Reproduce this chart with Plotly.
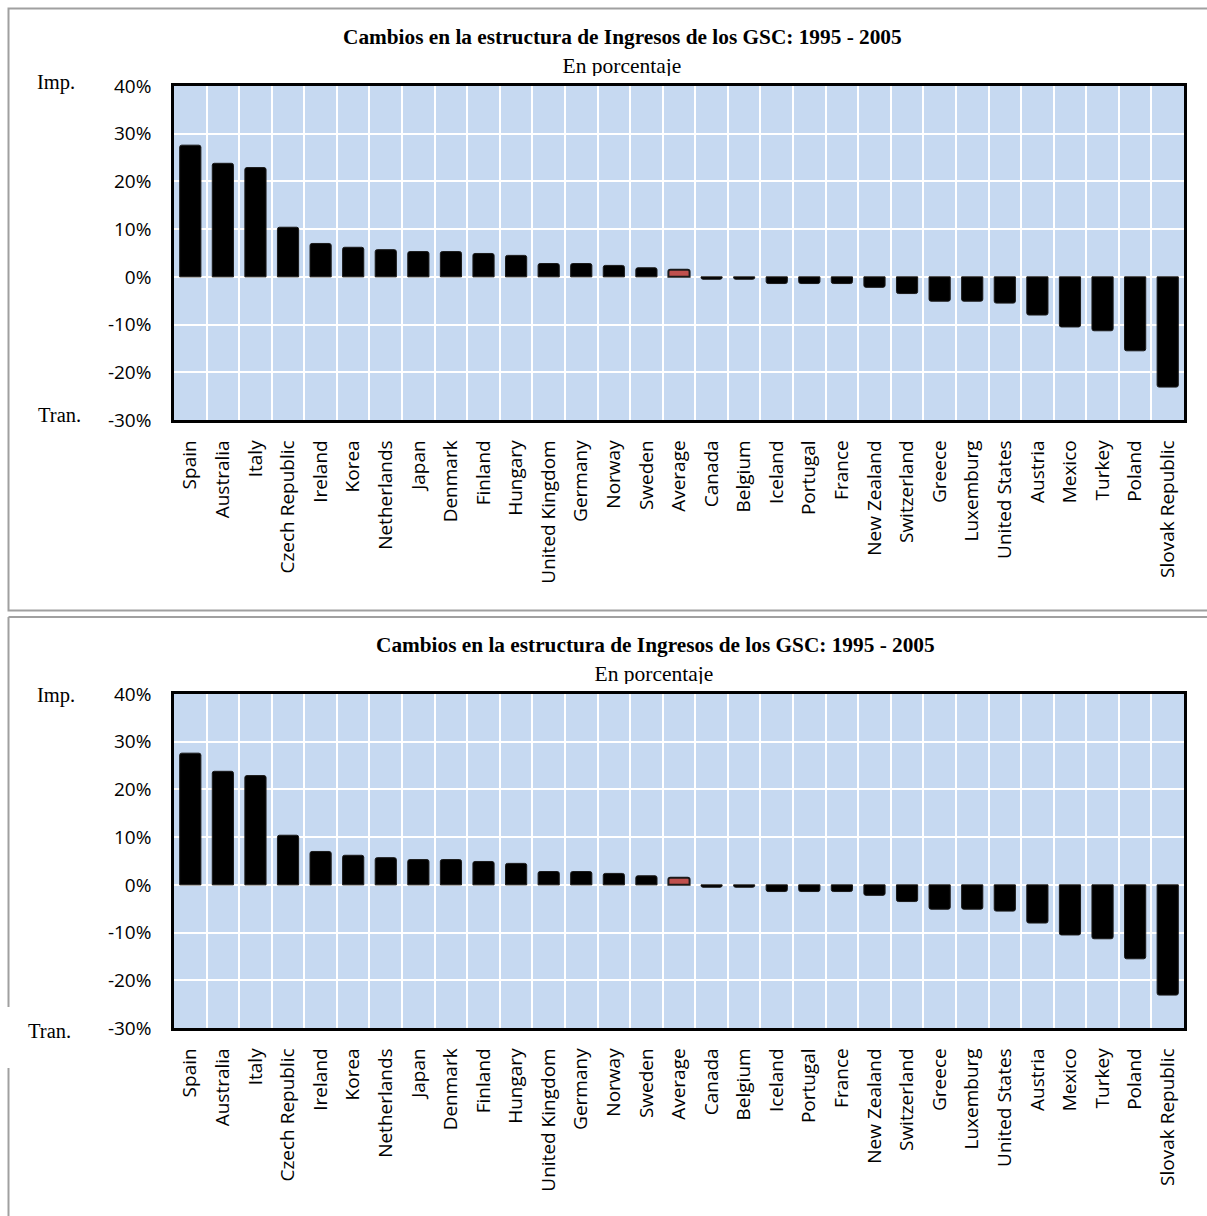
import plotly.graph_objects as go

# Revenue-structure change by country, 1995-2005 (percentage points)
countries = [
    "Spain", "Australia", "Italy", "Czech Republic", "Ireland", "Korea",
    "Netherlands", "Japan", "Denmark", "Finland", "Hungary", "United Kingdom",
    "Germany", "Norway", "Sweden", "Average", "Canada", "Belgium", "Iceland",
    "Portugal", "France", "New Zealand", "Switzerland", "Greece", "Luxemburg",
    "United States", "Austria", "Mexico", "Turkey", "Poland", "Slovak Republic",
]
values = [
    27.6, 23.8, 22.9, 10.4, 7.0, 6.2,
    5.7, 5.3, 5.3, 4.9, 4.5, 2.8,
    2.8, 2.4, 1.9, 1.5, -0.5, -0.5, -1.4,
    -1.4, -1.4, -2.2, -3.5, -5.1, -5.1,
    -5.5, -8.0, -10.5, -11.3, -15.5, -23.1,
]
y_tick_vals = [-30, -20, -10, 0, 10, 20, 30, 40]
y_tick_text = ["-30%", "-20%", "-10%", "0%", "10%", "20%", "30%", "40%"]

TITLE = "Cambios en la estructura de Ingresos de los GSC: 1995 - 2005"
SUBTITLE = "En porcentaje"

W, H = 1207, 1216
BG = "#C6D9F1"
SERIF = "Liberation Serif, Times New Roman, serif"
SANS = "Open Sans, sans-serif"


def px_x(v):
    return v / W


def px_y(v):
    return 1 - v / H


bar_colors = ["#C0504D" if c == "Average" else "#000000" for c in countries]
bar_line_w = [2 if c == "Average" else 1 for c in countries]

fig = go.Figure()

# two identical panels, each with its own clipped subtitle strip
panels = [
    dict(top=86, bottom=420, tx=622, ty=37, sx=622, s_top=40, s_bot=76,
         imp=(56, 82), tran=(59, 415)),
    dict(top=694, bottom=1028, tx=655, ty=645, sx=654, s_top=648, s_bot=684,
         imp=(56, 695), tran=(49, 1031)),
]

shapes = []
annotations = []
layout_axes = {}

for i, p in enumerate(panels):
    xa = "x" if i == 0 else "x2"
    ya = "y" if i == 0 else "y2"
    fig.add_trace(go.Bar(
        x=countries, y=values, xaxis=xa, yaxis=ya,
        width=0.65,
        marker=dict(color=bar_colors,
                    line=dict(color="#1a1a1a", width=bar_line_w),
                    cornerradius=2),
        showlegend=False, hoverinfo="x+y",
    ))
    dom_y = [px_y(p["bottom"]), px_y(p["top"])]
    xkey = "xaxis" if i == 0 else "xaxis2"
    ykey = "yaxis" if i == 0 else "yaxis2"
    layout_axes[xkey] = dict(
        domain=[px_x(174), px_x(1184)], anchor=ya, automargin=False,
        type="category", range=[-0.5, len(countries) - 0.5],
        tickson="boundaries", showgrid=True, gridcolor="white", gridwidth=2,
        showline=True, mirror=True, linecolor="black", linewidth=2.5,
        ticks="outside", ticklen=14, tickcolor="rgba(0,0,0,0)",
        ticklabelstandoff=10,
        tickangle=-90, tickfont=dict(family=SANS, size=19, color="black"),
    )
    layout_axes[ykey] = dict(
        domain=dom_y, anchor=xa, range=[-30, 40], automargin=False,
        tickvals=y_tick_vals, ticktext=y_tick_text,
        showgrid=True, gridcolor="white", gridwidth=2, zeroline=False,
        showline=True, mirror=True, linecolor="black", linewidth=2.5,
        ticks="outside", ticklen=16, tickcolor="rgba(0,0,0,0)",
        tickfont=dict(family=SANS, size=19, color="black"),
    )
    # plot-area fill
    shapes.append(dict(type="rect", xref=f"{xa} domain", yref=f"{ya} domain",
                       x0=0, x1=1, y0=0, y1=1, fillcolor=BG,
                       line=dict(width=0), layer="below"))

    # subtitle strip, clipped at its lower edge
    sxa = f"x{3 + i}"
    sya = f"y{3 + i}"
    layout_axes[f"xaxis{3 + i}"] = dict(domain=[0, 1], range=[0, W], visible=False,
                                         anchor=sya, fixedrange=True, automargin=False)
    layout_axes[f"yaxis{3 + i}"] = dict(domain=[px_y(p["s_bot"]), px_y(p["s_top"])],
                                         range=[p["s_bot"], p["s_top"]], visible=False,
                                         anchor=sxa, fixedrange=True, automargin=False)
    fig.add_trace(go.Scatter(
        x=[p["sx"]], y=[p["s_bot"] - 8], xaxis=sxa, yaxis=sya,
        mode="text", text=[SUBTITLE], textposition="middle center",
        textfont=dict(family=SERIF, size=21.5, color="black"),
        cliponaxis=True, showlegend=False, hoverinfo="skip",
    ))

    annotations.append(dict(text=f"<b>{TITLE}</b>", xref="paper", yref="paper",
                            x=px_x(p["tx"]), y=px_y(p["ty"]), xanchor="center",
                            yanchor="middle", showarrow=False,
                            font=dict(family=SERIF, size=21.3, color="black")))
    annotations.append(dict(text="Imp.", xref="paper", yref="paper",
                            x=px_x(p["imp"][0]), y=px_y(p["imp"][1]),
                            xanchor="center", yanchor="middle", showarrow=False,
                            font=dict(family=SERIF, size=20.5, color="black")))
    annotations.append(dict(text="Tran.", xref="paper", yref="paper",
                            x=px_x(p["tran"][0]), y=px_y(p["tran"][1]),
                            xanchor="center", yanchor="middle", showarrow=False,
                            font=dict(family=SERIF, size=20.5, color="black")))

# chart frames
FRAME = dict(color="#A0A0A0", width=2)
shapes += [
    dict(type="rect", xref="paper", yref="paper", x0=px_x(8.5), x1=px_x(1215),
         y0=px_y(610.5), y1=px_y(8.5), line=FRAME, layer="below"),
    dict(type="line", xref="paper", yref="paper", x0=px_x(8.5), x1=px_x(1215),
         y0=px_y(617), y1=px_y(617), line=FRAME, layer="below"),
    dict(type="line", xref="paper", yref="paper", x0=px_x(8.5), x1=px_x(8.5),
         y0=px_y(617), y1=px_y(1007), line=FRAME, layer="below"),
    dict(type="line", xref="paper", yref="paper", x0=px_x(8.5), x1=px_x(8.5),
         y0=px_y(1068), y1=px_y(1220), line=FRAME, layer="below"),
]

fig.update_layout(
    width=W, height=H,
    margin=dict(l=0, r=0, t=0, b=0, pad=0, autoexpand=False),
    paper_bgcolor="white", plot_bgcolor="rgba(0,0,0,0)",
    bargap=0.35, showlegend=False,
    shapes=shapes, annotations=annotations,
    **layout_axes,
)

fig.write_html("out.html")
